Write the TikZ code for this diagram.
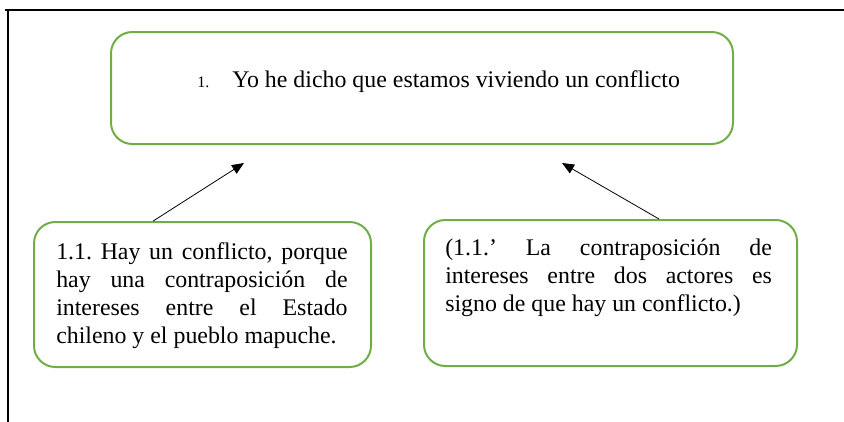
\documentclass[tikz,border=0pt]{standalone}
\usepackage{fontspec}
\setmainfont{Liberation Serif}
\usetikzlibrary{arrows.meta}
\definecolor{boxgreen}{RGB}{112,173,71}
\newcommand{\jline}[2]{\makebox[#1][s]{#2}\\}
\tikzset{
  greenbox/.style={draw=boxgreen, line width=1.5pt, rounded corners=16pt, inner sep=0pt, anchor=north west},
  arr/.style={draw=black, line width=0.6pt, -{Triangle[length=9pt,width=7.5pt]}},
  frameline/.style={draw=black, line width=1.2pt},
  boxtext/.style={anchor=north west, inner sep=0pt, align=left,
    font=\fontsize{17.9}{21}\selectfont\frenchspacing}
}
\begin{document}
\begin{tikzpicture}[x=0.75pt,y=-0.75pt]
\useasboundingbox (0,0) rectangle (844,422);
% frame
\draw[frameline] (5,10) -- (844,10);
\draw[frameline] (8,10) -- (8,422);
% boxes
\node[greenbox, minimum width=466.5pt, minimum height=84pt] (top) at (110,31) {};
\node[greenbox, minimum width=252.75pt, minimum height=108.75pt] (lbox) at (33,221) {};
\node[greenbox, minimum width=279.75pt, minimum height=109.5pt] (rbox) at (423,219) {};
% texts
\node[anchor=base west, inner sep=0pt, font=\fontsize{12}{14}\selectfont] (num) at (197,87) {1.};
\node[anchor=base west, inner sep=0pt, font=\fontsize{17.9}{21}\selectfont] (ttext) at (232,87) {Yo he dicho que estamos viviendo un conflicto};
\node[boxtext] (ltext) at (56,239.4) {\strut\jline{218.5pt}{1.1. Hay un conflicto, porque}\jline{218.5pt}{hay una contraposición de}\jline{218.5pt}{intereses entre el Estado}chileno y el pueblo mapuche.};
\node[boxtext] (rtext) at (445,235.4) {\strut\jline{245pt}{(1.1.’ La contraposición de}\jline{245pt}{intereses entre dos actores es}signo de que hay un conflicto.)};
% arrows
\coordinate (t1) at (244,163);
\coordinate (t2) at (562,163);
\draw[arr] ([xshift=-37pt]lbox.north) -- (t1);
\draw[arr] ([xshift=36.4pt]rbox.north) -- (t2);
\end{tikzpicture}
\end{document}
